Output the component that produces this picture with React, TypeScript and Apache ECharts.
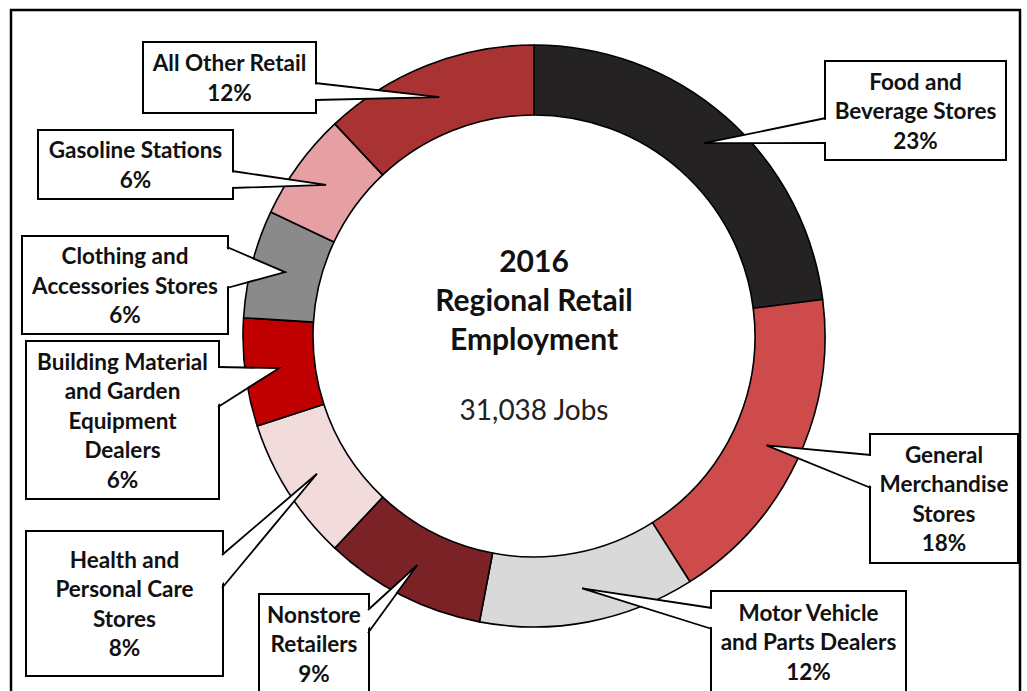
import React, { useEffect, useRef } from "react";
import * as echarts from "echarts";

// ---------- data ----------
const categories = [
  "Food and Beverage Stores",
  "General Merchandise Stores",
  "Motor Vehicle and Parts Dealers",
  "Nonstore Retailers",
  "Health and Personal Care Stores",
  "Building Material and Garden Equipment Dealers",
  "Clothing and Accessories Stores",
  "Gasoline Stations",
  "All Other Retail",
];
const shares = [23, 18, 12, 9, 8, 6, 6, 6, 12];
const labelTexts = [
  "Food and\nBeverage Stores",
  "General\nMerchandise\nStores",
  "Motor Vehicle\nand Parts Dealers",
  "Nonstore\nRetailers",
  "Health and\nPersonal Care\nStores",
  "Building Material\nand Garden\nEquipment\nDealers",
  "Clothing and\nAccessories Stores",
  "Gasoline Stations",
  "All Other Retail",
];
const titleLines = ["2016", "Regional Retail", "Employment"];
const subtitle = "31,038 Jobs";

// ---------- styles / layout ----------
const sliceColors = [
  "#252223",
  "#cd4b4b",
  "#d9d9d9",
  "#7b2226",
  "#f2dcdb",
  "#c00000",
  "#8a8a8a",
  "#e6a0a4",
  "#a93333",
];
const CX = 534;
const CY = 336;
const R_IN = 221;
const R_OUT = 291;
const LINE_H = 29.5;
const FONT = "Lato, 'Noto Sans', sans-serif";

// callout boxes: [x, y, w, h], side the pointer leaves from, offsets along that side
type Box = { r: number[]; side: "left" | "right"; at: number[] };
const boxes: Box[] = [
  { r: [826, 62, 179, 97], side: "left", at: [56, 81] },
  { r: [871, 435, 146, 127], side: "left", at: [20, 53] },
  { r: [712, 592, 193, 99], side: "left", at: [16, 37] },
  { r: [260, 595, 108, 97], side: "right", at: [15, 38] },
  { r: [27, 532, 195, 143], side: "right", at: [23, 56] },
  { r: [27, 342, 191, 156], side: "right", at: [25, 65] },
  { r: [23, 237, 204, 96], side: "right", at: [10, 51] },
  { r: [39, 131, 193, 67], side: "right", at: [40, 57] },
  { r: [144, 43, 171, 69], side: "right", at: [40, 57] },
];

function labelFor(i: number) {
  return labelTexts[i] + "\n" + shares[i] + "%";
}

export default function App() {
  const ref = useRef<HTMLDivElement>(null);
  useEffect(() => {
    if (!ref.current) return;
    const chart = echarts.init(ref.current, null, { renderer: "svg" });
    const data = categories.map((name, i) => {
      const b = boxes[i].r;
      const lines = labelFor(i).split("\n").length;
      const pv = (b[3] - lines * LINE_H) / 2;
      return {
        name,
        value: shares[i],
        itemStyle: { color: sliceColors[i] },
        label: { width: b[2], padding: [pv, 0, pv, 0] },
      };
    });
    chart.setOption({
      animation: false,
      backgroundColor: "#ffffff",
      series: [
        {
          type: "pie",
          center: [CX, CY],
          radius: [R_IN, R_OUT],
          startAngle: 90,
          clockwise: true,
          avoidLabelOverlap: false,
          minShowLabelAngle: 0,
          silent: true,
          itemStyle: { borderColor: "#000", borderWidth: 1.6 },
          label: {
            show: true,
            position: "outside",
            formatter: (p: any) => labelFor(p.dataIndex),
            fontFamily: FONT,
            fontWeight: "bold",
            fontSize: 22.5,
            lineHeight: LINE_H,
            color: "#111",
            backgroundColor: "#fff",
            borderColor: "#000",
            borderWidth: 2,
            align: "center",
            overflow: "none",
          },
          labelLine: { show: false },
          labelLayout: (params: any) => {
            const b = boxes[params.dataIndex].r;
            return {
              x: b[0] + b[2] / 2,
              y: b[1] + b[3] / 2,
              align: "center",
              verticalAlign: "middle",
            };
          },
          data,
        },
      ],
    });

    // pointer wedges, tips taken from the pie's own sector layout
    let layouts: any[] = [];
    try {
      const sd = (chart as any).getModel().getSeriesByIndex(0).getData();
      layouts = categories.map((_, i) => sd.getItemLayout(i));
    } catch (e) {
      layouts = [];
    }
    const total = shares.reduce((a, b) => a + b, 0);
    let cum = 0;
    const wedges: any[] = [];
    categories.forEach((_, i) => {
      let tip: number[];
      const l = layouts[i];
      if (l && l.startAngle != null) {
        const mid = (l.startAngle + l.endAngle) / 2;
        const rr = (l.r + l.r0) / 2 + 1;
        tip = [l.cx + rr * Math.cos(mid), l.cy + rr * Math.sin(mid)];
      } else {
        const mid = -Math.PI / 2 + ((cum + shares[i] / 2) / total) * Math.PI * 2;
        const rr = (R_IN + R_OUT) / 2 + 1;
        tip = [CX + rr * Math.cos(mid), CY + rr * Math.sin(mid)];
      }
      cum += shares[i];
      const bx = boxes[i];
      const ex = bx.side === "left" ? bx.r[0] : bx.r[0] + bx.r[2];
      const inset = bx.side === "left" ? 2.5 : -2.5;
      const A = [ex, bx.r[1] + bx.at[0]];
      const B = [ex, bx.r[1] + bx.at[1]];
      wedges.push({
        type: "polygon",
        z: 100,
        silent: true,
        shape: { points: [[ex + inset, A[1] + 1], tip, [ex + inset, B[1] - 1]] },
        style: { fill: "#fff", stroke: null },
      });
      wedges.push({
        type: "polyline",
        z: 101,
        silent: true,
        shape: { points: [A, tip, B] },
        style: { stroke: "#000", lineWidth: 1.8, fill: null },
      });
    });

    const centerTexts = titleLines.map((t, i) => ({
      type: "text",
      x: CX,
      y: 260 + i * 39,
      silent: true,
      style: {
        text: t,
        fill: "#111",
        font: `bold 30px ${FONT}`,
        align: "center",
        verticalAlign: "middle",
      },
    }));
    centerTexts.push({
      type: "text",
      x: CX,
      y: 409,
      silent: true,
      style: {
        text: subtitle,
        fill: "#222",
        font: `28px ${FONT}`,
        align: "center",
        verticalAlign: "middle",
      },
    });

    chart.setOption({
      graphic: [
        {
          type: "rect",
          z: 0,
          silent: true,
          shape: { x: 11, y: 10, width: 1009, height: 700 },
          style: { fill: null, stroke: "#000", lineWidth: 2.5 },
        },
        ...centerTexts,
        ...wedges,
      ],
    });

    return () => chart.dispose();
  }, []);
  return (
    <div
      ref={ref}
      style={{ position: "fixed", left: 0, top: 0, width: 1027, height: 691, background: "#fff" }}
    />
  );
}
